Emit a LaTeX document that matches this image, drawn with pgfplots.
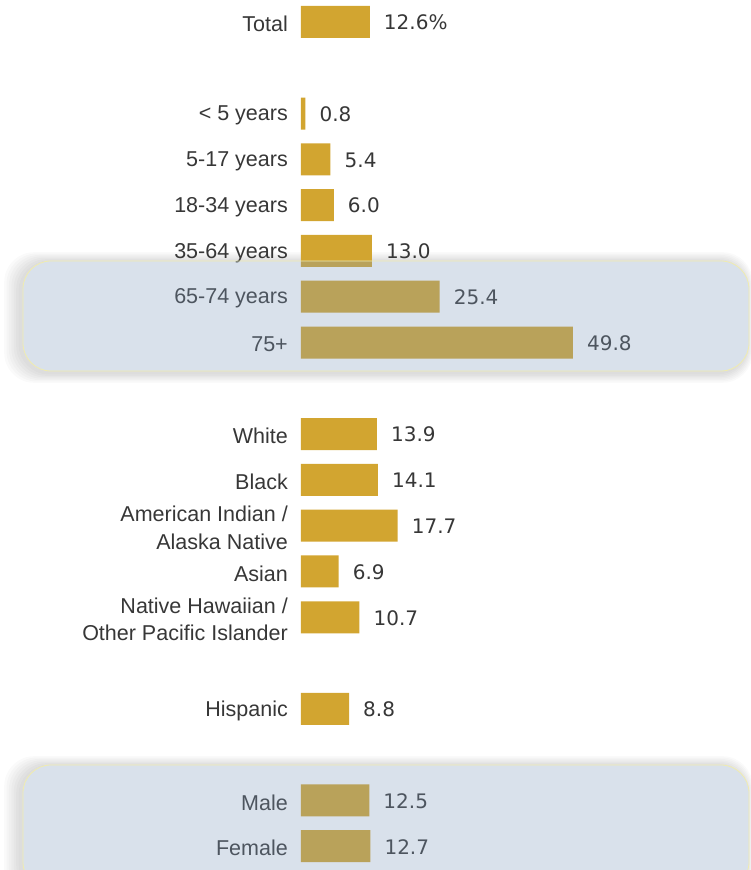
\documentclass[border=0pt]{standalone}
\usepackage{pgfplots}
\pgfplotsset{compat=1.18}
\usepackage{fontspec}
\setmainfont{Liberation Sans}
\newfontfamily\numfont{DejaVu Sans}
\definecolor{barc}{RGB}{210,165,48}
\definecolor{txt}{RGB}{55,55,55}
\definecolor{ovl}{RGB}{130,156,189}
\definecolor{edgec}{RGB}{240,236,175}
\begin{document}
\begin{tikzpicture}
% soft shadows and white bases of highlight boxes
\foreach \k in {1,...,7} {
  \fill[black, opacity=0.018, rounded corners=30pt]
    (-280pt-\k*2.4pt, 497pt-\k*1.4pt) rectangle (446pt+\k*0.8pt, 608pt+\k*1.4pt);
  \fill[black, opacity=0.018, rounded corners=30pt]
    (-280pt-\k*2.4pt, -22pt-\k*1.4pt) rectangle (446pt+\k*0.8pt, 104pt+\k*1.4pt);
}
\fill[white, rounded corners=28pt] (-278pt,499pt) rectangle (448pt,609pt);
\fill[white, rounded corners=28pt] (-278pt,-20pt) rectangle (448pt,105pt);
\begin{axis}[
  at={(0,0)}, anchor=south west,
  scale only axis, width=449pt, height=870pt,
  xmin=0, xmax=82.23, ymin=-0.48, ymax=18.52, y dir=reverse,
  axis line style={draw=none}, tick style={draw=none},
  major tick length=0pt,
  xtick=\empty,
  ytick={0,2,3,4,5,6,7,9,10,11,12,13,15,17,18},
  yticklabels={Total,{< 5 years},{5-17 years},{18-34 years},{35-64 years},{65-74 years},{75+},
    White,Black,{American Indian /\\Alaska Native},Asian,{Native Hawaiian /\\Other Pacific Islander},
    Hispanic,Male,Female},
  y tick label style={font=\fontsize{21.5}{27.5}\selectfont, align=right, text=txt, inner sep=0pt, xshift=-13pt, yshift=-2pt},
  xbar, bar width=32pt, bar shift=0pt,
  clip=false,
]
\addplot[fill=barc, draw=none, point meta=explicit symbolic,
  nodes near coords,
  nodes near coords style={anchor=west, inner sep=0pt, xshift=14pt, yshift=-0.5pt,
    font=\numfont\fontsize{20}{24}\selectfont, text=txt}]
  coordinates {
  (12.6,0) [12.6\%]
  (0.8,2) [0.8]
  (5.4,3) [5.4]
  (6.0,4) [6.0]
  (13.0,5) [13.0]
  (25.4,6) [25.4]
  (49.8,7) [49.8]
  (13.9,9) [13.9]
  (14.1,10) [14.1]
  (17.7,11) [17.7]
  (6.9,12) [6.9]
  (10.7,13) [10.7]
  (8.8,15) [8.8]
  (12.5,17) [12.5]
  (12.7,18) [12.7]
  };
\end{axis}
% translucent highlight overlays
\fill[ovl, fill opacity=0.3, rounded corners=28pt] (-278pt,499pt) rectangle (448pt,609pt);
\draw[edgec, line width=0.8pt, rounded corners=28pt] (-278pt,499pt) rectangle (448pt,609pt);
\fill[ovl, fill opacity=0.3, rounded corners=28pt] (-278pt,-20pt) rectangle (448pt,105pt);
\draw[edgec, line width=0.8pt, rounded corners=28pt] (-278pt,-20pt) rectangle (448pt,105pt);
\pgfresetboundingbox
\path (-301pt,0pt) rectangle (449pt,870pt);
\end{tikzpicture}
\end{document}
